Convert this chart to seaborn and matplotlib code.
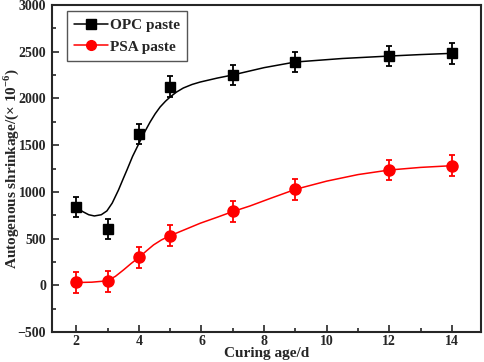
import numpy as np
import pandas as pd
import seaborn as sns
import matplotlib.pyplot as plt
from matplotlib.lines import Line2D
from matplotlib.ticker import MultipleLocator

# Measured points
age = [2, 3, 4, 5, 7, 9, 12, 14]
opc = [840, 600, 1620, 2128, 2251, 2392, 2454, 2482]
psa = [30, 45, 298, 528, 790, 1028, 1234, 1280]
opc_err = [110, 110, 110, 110, 110, 110, 110, 110]
psa_err = [112, 112, 112, 112, 112, 112, 112, 112]

# Fitted curves
opc_fit_x = [2.0, 2.2, 2.4, 2.58, 2.8, 2.98, 3.15, 3.35, 3.5, 3.62, 3.8, 4.01,
             4.2, 4.36, 4.52, 4.68, 4.85, 5.0, 5.2, 5.42, 5.7, 5.96, 6.5,
             6.99, 8.0, 8.99, 10.5, 11.99, 13.0, 13.99]
opc_fit_y = [838, 790, 755, 742, 755, 796, 880, 1020, 1140, 1234, 1380, 1523,
             1650, 1748, 1835, 1909, 1970, 2016, 2068, 2112, 2150, 2176, 2218,
             2251, 2330, 2390, 2428, 2454, 2470, 2483]
psa_fit_x = [2.0, 2.5, 2.98, 3.25, 3.51, 3.75, 4.01, 4.25, 4.47, 4.72, 4.98,
             5.5, 5.96, 6.5, 6.99, 7.55, 8.2, 9.01, 10.0, 11.0, 12.0, 13.0, 13.99]
psa_fit_y = [29, 33, 47, 95, 164, 232, 300, 370, 432, 485, 528, 600, 664, 728,
             788, 849, 930, 1028, 1115, 1185, 1234, 1262, 1280]

sns.set_style('ticks')
plt.rcParams['font.family'] = ['Liberation Serif', 'DejaVu Serif']
plt.rcParams['font.weight'] = 'bold'
plt.rcParams['mathtext.fontset'] = 'custom'
plt.rcParams['mathtext.rm'] = 'Liberation Serif:bold'
plt.rcParams['mathtext.bf'] = 'Liberation Serif:bold'

fig = plt.figure(figsize=(4.84, 3.62), dpi=100)
ax = fig.add_axes([0.107, 0.083, 0.887, 0.903])

sns.lineplot(x=opc_fit_x, y=opc_fit_y, ax=ax, color='black', linewidth=1.1,
             sort=False)
sns.lineplot(x=psa_fit_x, y=psa_fit_y, ax=ax, color='red', linewidth=1.1,
             sort=False)

ax.errorbar(age, opc, yerr=opc_err, fmt='s', color='black', markersize=6.5,
            capsize=2.5, elinewidth=1.3, capthick=1.3, zorder=3)
ax.errorbar(age, psa, yerr=psa_err, fmt='o', color='red', markersize=8,
            capsize=2.5, elinewidth=1.3, capthick=1.3, zorder=3)

ax.set_xlim(1.22, 14.93)
ax.set_ylim(-500, 3000)
ax.xaxis.set_major_locator(MultipleLocator(2))
ax.xaxis.set_minor_locator(MultipleLocator(1))
ax.yaxis.set_major_locator(MultipleLocator(500))
ax.yaxis.set_minor_locator(MultipleLocator(250))
ax.tick_params(which='both', direction='in', width=1.2, labelsize=10)
ax.tick_params(which='major', length=5)
ax.tick_params(which='minor', length=3)
ax.tick_params(axis='x', pad=2)
ax.tick_params(axis='y', pad=4)
for s in ax.spines.values():
    s.set_linewidth(1.5)
for lab in ax.get_xticklabels() + ax.get_yticklabels():
    lab.set_fontweight('bold')

ax.set_xlabel('Curing age/d', fontsize=11, fontweight='bold', labelpad=-0.5)
ax.set_ylabel(r'Autogenous shrinkage/(× 10$^{-6}$)', fontsize=11,
              fontweight='bold')
ax.yaxis.set_label_coords(-0.072, 0.5)

handles = [
    Line2D([], [], color='black', marker='s', markersize=6.5, linewidth=1.1),
    Line2D([], [], color='red', marker='o', markersize=7, linewidth=1.1),
]
leg = ax.legend(handles, ['OPC paste', 'PSA paste'], loc='upper left',
                bbox_to_anchor=(0.035, 0.982), borderaxespad=0, fancybox=False,
                edgecolor='#555555', framealpha=1, handlelength=2.2,
                handletextpad=0.1, borderpad=0.5, labelspacing=0.5,
                prop={'weight': 'bold', 'size': 11})
leg.get_frame().set_linewidth(1.0)

fig.savefig('out.png', dpi=100)
